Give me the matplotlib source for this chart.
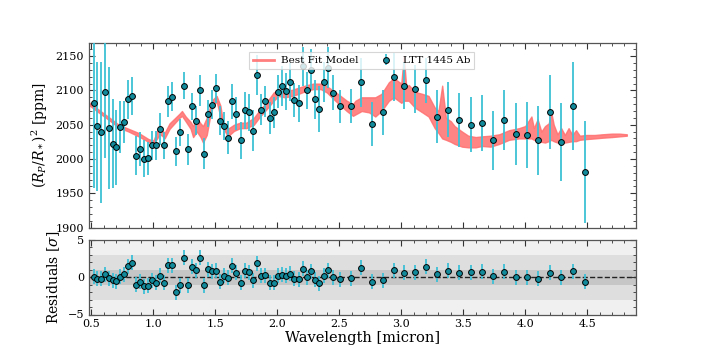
import matplotlib
matplotlib.use("Agg")
import matplotlib.pyplot as plt
from matplotlib.ticker import MultipleLocator
from matplotlib.lines import Line2D

plt.rcParams['font.family'] = ['DejaVu Serif']
plt.rcParams['mathtext.fontset'] = 'dejavuserif'

# ---- observed spectrum ----
wavelength = [0.520, 0.547, 0.577, 0.609, 0.639, 0.671, 0.700, 0.733, 0.765, 0.795,
              0.827, 0.857, 0.889, 0.921, 0.954, 0.986, 1.018, 1.050, 1.083, 1.115,
              1.147, 1.180, 1.212, 1.244, 1.279, 1.311, 1.343, 1.376, 1.408, 1.440,
              1.473, 1.505, 1.537, 1.569, 1.604, 1.636, 1.669, 1.704, 1.736, 1.769,
              1.801, 1.836, 1.871, 1.903, 1.938, 1.971, 2.003, 2.035, 2.070, 2.102,
              2.137, 2.172, 2.205, 2.237, 2.272, 2.306, 2.339, 2.374, 2.408, 2.447,
              2.506, 2.592, 2.675, 2.764, 2.853, 2.939, 3.025, 3.113, 3.200, 3.291,
              3.380, 3.469, 3.560, 3.649, 3.740, 3.832, 3.924, 4.015, 4.106, 4.200,
              4.292, 4.386, 4.480]
depth = [2082, 2048, 2039, 2098, 2045, 2022, 2017, 2047, 2054, 2087,
         2092, 2005, 2015, 2000, 2001, 2020, 2020, 2044, 2020, 2084,
         2091, 2011, 2039, 2107, 2014, 2077, 2056, 2100, 2008, 2066,
         2079, 2103, 2056, 2048, 2031, 2084, 2066, 2027, 2071, 2068,
         2041, 2123, 2072, 2084, 2060, 2068, 2098, 2106, 2099, 2112,
         2086, 2081, 2135, 2100, 2130, 2087, 2073, 2112, 2133, 2097,
         2077, 2077, 2112, 2051, 2068, 2120, 2107, 2102, 2115, 2062,
         2072, 2057, 2050, 2053, 2027, 2057, 2036, 2035, 2027, 2068,
         2025, 2077, 1981]
depth_err = [124, 94, 103, 97, 89, 65, 55, 38, 30, 29,
             28, 29, 25, 27, 24, 21, 21, 23, 20, 22,
             21, 21, 20, 20, 23, 20, 21, 22, 22, 20,
             21, 21, 21, 21, 24, 25, 24, 27, 27, 27,
             30, 29, 23, 23, 23, 23, 24, 29, 27, 28,
             25, 27, 29, 27, 30, 29, 33, 29, 30, 25,
             24, 25, 36, 32, 33, 35, 34, 35, 33, 39,
             40, 40, 40, 41, 43, 44, 45, 48, 50, 54,
             57, 64, 74]
residuals = [0.05, -0.2, -0.2, 0.35, -0.15, -0.4, -0.55, 0.05, 0.35, 1.45,
             1.9, -1.05, -0.6, -1.2, -1.15, -0.4, -0.75, 0.15, -0.75, 1.6,
             1.6, -2.0, -1.1, 2.6, -1.1, 1.4, 0.9, 2.6, -1.1, 1.05,
             0.8, 0.85, -0.6, 0.2, -0.1, 1.5, 0.6, -0.75, 0.85, 0.65,
             -0.45, 1.85, 0.15, 0.25, -0.75, -0.75, 0.15, 0.3, 0.2, 0.45,
             -0.2, -0.3, 1.1, 0.0, 0.75, -0.35, -0.8, 0.2, 0.9, 0.0,
             -0.3, -0.15, 1.25, -0.6, -0.4, 0.9, 0.55, 0.65, 1.35, 0.35,
             0.85, 0.6, 0.65, 0.7, 0.1, 0.7, 0.0, -0.05, -0.2, 0.6,
             -0.05, 0.75, -0.6]
resid_err = 1.0

# ---- best-fit model (lower / upper envelope of the high-resolution spectrum) ----
model_wave = [0.47, 0.55, 0.64, 0.72, 0.80, 0.88, 0.96, 1.00, 1.03, 1.05,
              1.07, 1.09, 1.13, 1.17, 1.21, 1.23, 1.26, 1.30, 1.32, 1.35,
              1.38, 1.40, 1.43, 1.46, 1.48, 1.51, 1.54, 1.56, 1.60, 1.65,
              1.70, 1.75, 1.81, 1.86, 1.91, 1.97, 2.01, 2.06, 2.12, 2.17,
              2.24, 2.29, 2.35, 2.40, 2.45, 2.51, 2.56, 2.61, 2.63, 2.68,
              2.74, 2.79, 2.84, 2.90, 2.94, 3.00, 3.02, 3.04, 3.06, 3.11,
              3.17, 3.22, 3.27, 3.30, 3.33, 3.36, 3.40, 3.43, 3.49, 3.54,
              3.60, 3.65, 3.72, 3.79, 3.87, 3.95, 4.00, 4.05, 4.07, 4.10,
              4.13, 4.16, 4.19, 4.21, 4.23, 4.26, 4.29, 4.32, 4.35, 4.38,
              4.41, 4.44, 4.49, 4.56, 4.62, 4.70, 4.76, 4.82]
model_lo = [2080, 2069, 2057, 2046, 2040, 2033, 2025, 2022, 2030, 2036,
            2034, 2030, 2044, 2052, 2060, 2063, 2055, 2044, 2032, 2040,
            2032, 2024, 2035, 2065, 2077, 2084, 2062, 2046, 2033, 2041,
            2045, 2045, 2050, 2062, 2072, 2085, 2092, 2090, 2092, 2095,
            2100, 2102, 2102, 2097, 2088, 2078, 2070, 2063, 2065, 2070,
            2068, 2062, 2070, 2085, 2090, 2082, 2085, 2085, 2085, 2075,
            2068, 2062, 2045, 2038, 2030, 2028, 2025, 2022, 2018, 2017,
            2017, 2019, 2018, 2022, 2028, 2030, 2030, 2030, 2028, 2026,
            2025, 2024, 2026, 2028, 2026, 2024, 2023, 2024, 2025, 2026,
            2026, 2028, 2029, 2030, 2031, 2032, 2033, 2034]
model_hi = [2084, 2073, 2061, 2050, 2044, 2038, 2029, 2027, 2040, 2050,
            2042, 2038, 2052, 2059, 2066, 2070, 2062, 2054, 2048, 2060,
            2052, 2048, 2060, 2078, 2087, 2092, 2078, 2056, 2044, 2050,
            2053, 2053, 2060, 2072, 2082, 2097, 2101, 2099, 2101, 2104,
            2108, 2110, 2110, 2106, 2100, 2092, 2085, 2080, 2085, 2090,
            2090, 2090, 2095, 2112, 2118, 2110, 2150, 2105, 2108, 2098,
            2095, 2092, 2075, 2070, 2107, 2060, 2055, 2048, 2040, 2034,
            2032, 2033, 2034, 2036, 2042, 2045, 2048, 2062, 2045, 2058,
            2040, 2048, 2052, 2068, 2050, 2036, 2045, 2035, 2045, 2035,
            2042, 2034, 2035, 2035, 2036, 2037, 2037, 2036]

model_color = '#ff7070'
point_face = '#128a9c'
bar_color = '#3ec0d6'

fig = plt.figure(figsize=(7.06, 3.53), dpi=100)
ax1 = fig.add_axes([89/706, 1-227.5/353, 546.5/706, 185/353])
ax2 = fig.add_axes([89/706, 1-314.5/353, 546.5/706, 75/353])

ax1.fill_between(model_wave, model_lo, model_hi, color=model_color, alpha=0.85,
                 lw=1.0, edgecolor=model_color, zorder=2)
ax1.errorbar(wavelength, depth, yerr=depth_err, fmt='o', ms=4.2, mfc=point_face,
             mec='black', mew=0.7, ecolor=bar_color, elinewidth=1.3, capsize=0,
             zorder=3)

model_handle = Line2D([], [], color=model_color, lw=2.0, alpha=0.9)
eb_proxy = ax1.errorbar([], [], yerr=[], fmt='o', ms=4.2, mfc=point_face,
                        mec='black', mew=0.7, ecolor=bar_color, elinewidth=1.3)
leg = ax1.legend([model_handle, eb_proxy], ['Best Fit Model', 'LTT 1445 Ab'],
                 loc='upper center', ncol=2, fontsize=7.5, frameon=True,
                 bbox_to_anchor=(0.4986, 0.975), borderpad=0.35, columnspacing=1.6,
                 handlelength=2.1, handletextpad=0.6, fancybox=False)
leg.get_frame().set_edgecolor('#cccccc')
leg.get_frame().set_linewidth(0.8)

ax1.set_xlim(0.48, 4.89)
ax1.set_ylim(1900, 2170)
ax1.set_ylabel(r'$(R_P/R_*)^2$ [ppm]', fontsize=10)
ax1.yaxis.set_major_locator(MultipleLocator(50))
ax1.yaxis.set_minor_locator(MultipleLocator(10))
ax1.xaxis.set_major_locator(MultipleLocator(0.5))
ax1.xaxis.set_minor_locator(MultipleLocator(0.1))
ax1.tick_params(labelbottom=False)

# residual panel bands
ax2.axhspan(-5, 5, color='#f0f0f0', lw=0, zorder=0)
ax2.axhspan(-3, 3, color='#dedede', lw=0, zorder=0)
ax2.axhspan(-1, 1, color='#c6c6c6', lw=0, zorder=0)
ax2.axhline(0, color='#222222', ls='--', lw=1.0, zorder=1)
ax2.errorbar(wavelength, residuals, yerr=resid_err, fmt='o', ms=4.2, mfc=point_face,
             mec='black', mew=0.7, ecolor=bar_color, elinewidth=1.3, capsize=0,
             zorder=3)
ax2.set_xlim(0.48, 4.89)
ax2.set_ylim(-5, 5)
ax2.yaxis.set_major_locator(MultipleLocator(5))
ax2.yaxis.set_minor_locator(MultipleLocator(1))
ax2.xaxis.set_major_locator(MultipleLocator(0.5))
ax2.xaxis.set_minor_locator(MultipleLocator(0.1))
ax2.set_ylabel(r'Residuals [$\sigma$]', fontsize=10)
ax2.set_xlabel('Wavelength [micron]', fontsize=10.5, labelpad=1)

for ax in (ax1, ax2):
    ax.tick_params(which='both', direction='in', top=True, right=True,
                   labelsize=8, colors='#333333', labelcolor='black')
    ax.tick_params(which='major', length=4, width=0.8)
    ax.tick_params(which='minor', length=2, width=0.6)
    for s in ax.spines.values():
        s.set_color('#555555')
        s.set_linewidth(0.9)

fig.savefig('out.png', dpi=100)
